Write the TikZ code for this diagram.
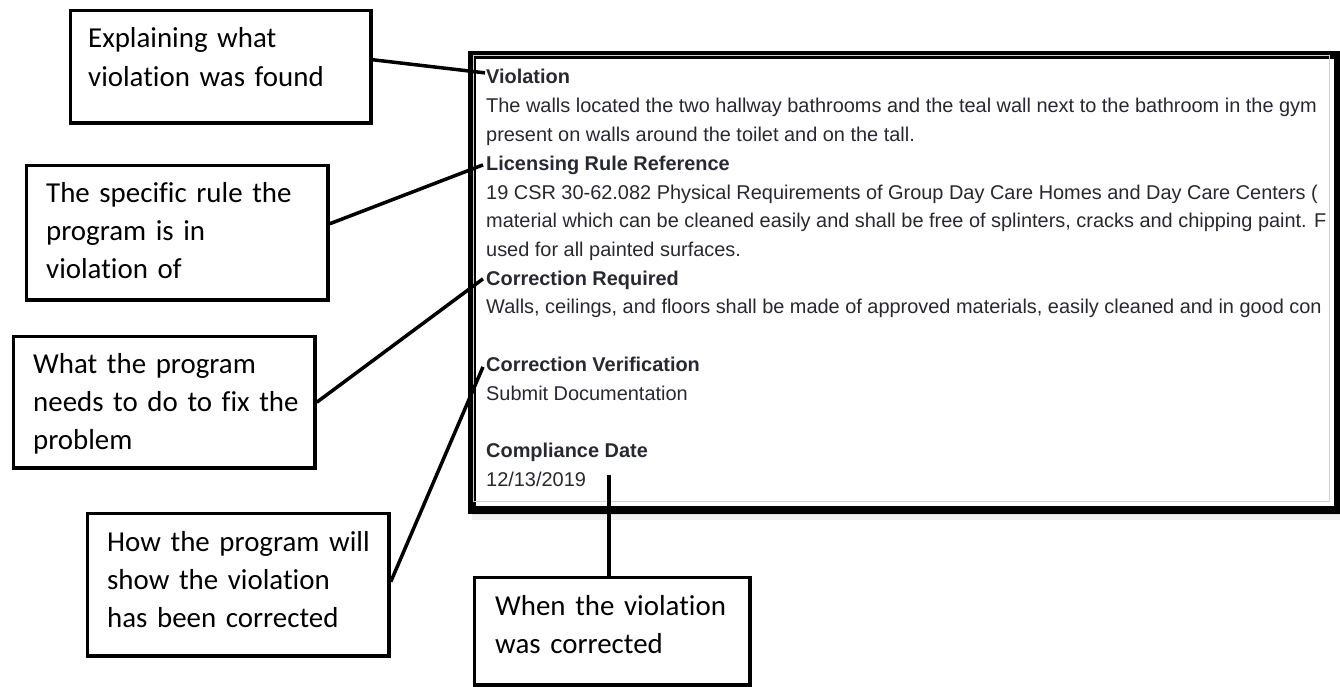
\documentclass[tikz,border=0pt]{standalone}
\usepackage{fontspec}
\newfontfamily\calib[RawFeature={-liga;-clig;-dlig;-calt}]{Carlito}
\newfontfamily\arialf{Liberation Sans}
\usetikzlibrary{calc}
\definecolor{scr}{RGB}{40,40,50}
\tikzset{
  cbox/.style={draw=black, line width=3.5bp, fill=white, anchor=north west, inner sep=0pt},
  ctext/.style={anchor=base west, inner sep=0pt, text width=330bp, align=left,
    font=\calib\fontsize{29}{38.5}\selectfont, text=black},
  stext/.style={anchor=base west, inner sep=0pt, font=\arialf\fontsize{20}{24}\selectfont, text=scr},
  shead/.style={stext, font=\arialf\bfseries\fontsize{20}{24}\selectfont},
  conn/.style={draw=black, line width=3.5bp},
}
\begin{document}
\begin{tikzpicture}[x=1bp,y=-1bp]
\useasboundingbox (0,0) rectangle (1340,686);
\fill[white] (0,0) rectangle (1340,686);
% screenshot frame shadow
\fill[black, opacity=0.06] (472,508) rectangle (1340,520);
\fill[black, opacity=0.08] (472,508) rectangle (1340,515);
\fill[black, opacity=0.10] (472,508) rectangle (1340,512);
% screenshot frame
\node[draw=black, line width=8bp, fill=white, anchor=north west, inner sep=0pt,
  minimum width=866bp, minimum height=454.5bp] (frame) at (468,51) {};
\draw[gray!35, line width=1bp] (473,55.5) rectangle (1329.5,501.5);
% screenshot text
\begin{scope}
\clip (473,56) rectangle (1329,501);
\node[shead] (h1) at (486,84) {Violation};
\node[stext] (t1) at (486,113) {The walls located the two hallway bathrooms and the teal wall next to the bathroom in the gym};
\node[stext] (t2) at (486,141) {present on walls around the toilet and on the tall.};
\node[shead] (h2) at (486,170) {Licensing Rule Reference};
\node[stext] (t3) at (486,199) {19 CSR 30-62.082 Physical Requirements of Group Day Care Homes and Day Care Centers (};
\node[stext] (t4) at (486,227) {material which can be cleaned easily and shall be free of splinters, cracks and chipping paint. F};
\node[stext] (t5) at (486,256) {used for all painted surfaces.};
\node[shead] (h3) at (486,285) {Correction Required};
\node[stext] (t6) at (486,313) {Walls, ceilings, and floors shall be made of approved materials, easily cleaned and in good con};
\node[shead] (h4) at (486,371) {Correction Verification};
\node[stext] (t7) at (486,400) {Submit Documentation};
\node[shead] (h5) at (486,457) {Compliance Date};
\node[stext] (t8) at (486,486) {12/13/2019};
\end{scope}
% callout boxes
\node[cbox, minimum width=300.5bp, minimum height=112.5bp] (b1) at (68.75,8.75) {};
\node[cbox, minimum width=301.5bp, minimum height=134.5bp] (b2) at (24.75,163.75) {};
\node[cbox, minimum width=301.5bp, minimum height=131.5bp] (b3) at (11.75,334.75) {};
\node[cbox, minimum width=301.5bp, minimum height=142.5bp] (b4) at (85.75,511.75) {};
\node[cbox, minimum width=275.5bp, minimum height=107.5bp] (b5) at (472.75,575.75) {};
\node[ctext] (x1) at (88,48) {Explaining what\\violation was found};
\node[ctext] (x2) at (46,202) {The specific rule the\\program is in\\violation of};
\node[ctext] (x3) at (33,373) {What the program\\needs to do to fix the\\problem};
\node[ctext] (x4) at (107,551) {How the program will\\show the violation\\has been corrected};
\node[ctext] (x5) at (495,615) {When the violation\\was corrected};
% connectors
\coordinate (d5) at (609,475);
\draw[conn] ($(b1.east)+(0,-7)$) -- ($(h1.west)+(-1,-4)$);
\draw[conn] ($(b2.east)+(0,-9)$) -- ($(h2.west)+(-3,0)$);
\draw[conn] (b3.east) -- ($(h3.west)+(-3,-1)$);
\draw[conn] ($(b4.east)+(0,-3)$) -- ($(h4.west)+(-3,3)$);
\draw[conn] (b5.north -| d5) -- (d5);
\end{tikzpicture}
\end{document}
